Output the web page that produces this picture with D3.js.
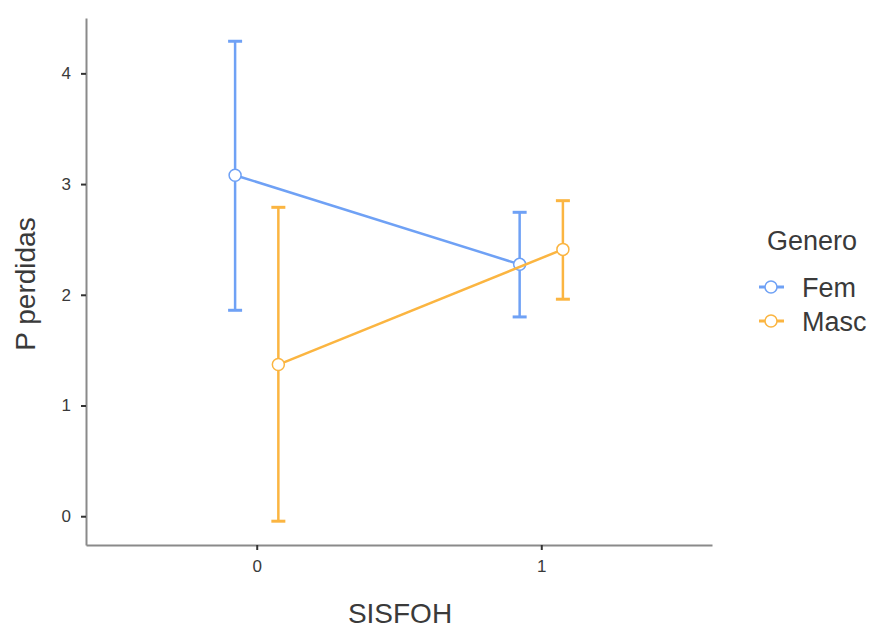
<!doctype html>
<html>
  <head>
    <meta charset="utf-8">
    <title>P perdidas by SISFOH</title>
    <script src="https://cdnjs.cloudflare.com/ajax/libs/d3/7.8.5/d3.min.js"></script>
    <style>
      body { margin: 0; background: #fff; }
      text { font-family: "Liberation Sans", Arial, sans-serif; }
    </style>
  </head>
  <body>
    <div id="chart"></div>
    <script>
      // data
      const levels = [0, 1];
      const groups = ['Fem', 'Masc'];
      const colors = ['#6fa1f5', '#fbb541'];
      const means = [[3.08, 2.275], [1.37, 2.41]];
      const upper = [[4.29, 2.745], [2.79, 2.85]];
      const lower = [[1.86, 1.80], [-0.045, 1.96]];
      const yTicks = [0, 1, 2, 3, 4];
      const dodge = 0.076;

      const svg = d3.select('#chart').append('svg')
        .attr('width', 870).attr('height', 630);

      const x = d3.scaleLinear().domain([-0.6, 1.6]).range([86, 712]);
      const y = d3.scaleLinear().domain([-0.26, 4.5]).range([545, 18]);

      // axes
      const xAxis = svg.append('g').attr('transform', 'translate(0,545)')
        .call(d3.axisBottom(x).tickValues(levels).tickSizeInner(5).tickSizeOuter(0)
          .tickPadding(10).tickFormat(d3.format('d')));
      const yAxis = svg.append('g').attr('transform', 'translate(86,0)')
        .call(d3.axisLeft(y).tickValues(yTicks).tickSizeInner(5).tickSizeOuter(0)
          .tickPadding(10).tickFormat(d3.format('d')));

      [xAxis, yAxis].forEach(a => {
        a.select('.domain').attr('stroke', '#8a8a8a').attr('stroke-width', 2);
        a.selectAll('.tick line').attr('stroke', '#333').attr('stroke-width', 2);
        a.selectAll('.tick text').attr('fill', '#3a3a3a').style('font-size', '17px');
      });

      svg.append('text').attr('x', 400).attr('y', 623)
        .attr('text-anchor', 'middle').attr('fill', '#3a3a3a')
        .style('font-size', '28px').text('SISFOH');
      svg.append('text')
        .attr('transform', 'translate(35,284) rotate(-90)')
        .attr('text-anchor', 'middle').attr('fill', '#3a3a3a')
        .style('font-size', '28px').text('P perdidas');

      // series
      groups.forEach((g, gi) => {
        const off = gi === 0 ? -dodge : dodge;
        const c = colors[gi];
        const grp = svg.append('g');
        const line = d3.line().x((d, i) => x(levels[i] + off)).y(d => y(d));
        grp.append('path').datum(means[gi])
          .attr('d', line).attr('fill', 'none')
          .attr('stroke', c).attr('stroke-width', 2.5);

        levels.forEach((lv, i) => {
          const cx = x(lv + off);
          grp.append('line')
            .attr('x1', cx).attr('x2', cx)
            .attr('y1', y(upper[gi][i])).attr('y2', y(lower[gi][i]))
            .attr('stroke', c).attr('stroke-width', 2.5);
          [upper[gi][i], lower[gi][i]].forEach(v => {
            grp.append('line')
              .attr('x1', cx - 7).attr('x2', cx + 7)
              .attr('y1', y(v)).attr('y2', y(v))
              .attr('stroke', c).attr('stroke-width', 3);
          });
        });

        grp.selectAll('circle').data(means[gi]).join('circle')
          .attr('cx', (d, i) => x(levels[i] + off))
          .attr('cy', d => y(d))
          .attr('r', 6)
          .attr('fill', '#fff')
          .attr('stroke', c).attr('stroke-width', 1.5);
      });

      // legend
      const legend = svg.append('g');
      legend.append('text').attr('x', 767).attr('y', 250)
        .attr('fill', '#3a3a3a').style('font-size', '27px').text('Genero');
      groups.forEach((g, gi) => {
        const ly = 287 + gi * 34;
        const item = legend.append('g');
        item.append('line')
          .attr('x1', 759).attr('x2', 784).attr('y1', ly).attr('y2', ly)
          .attr('stroke', colors[gi]).attr('stroke-width', 3);
        item.append('circle').attr('cx', 771).attr('cy', ly).attr('r', 6)
          .attr('fill', '#fff').attr('stroke', colors[gi]).attr('stroke-width', 1.5);
        item.append('text').attr('x', 802).attr('y', ly + 10)
          .attr('fill', '#3a3a3a').style('font-size', '27px').text(g);
      });
    </script>
  </body>
</html>
